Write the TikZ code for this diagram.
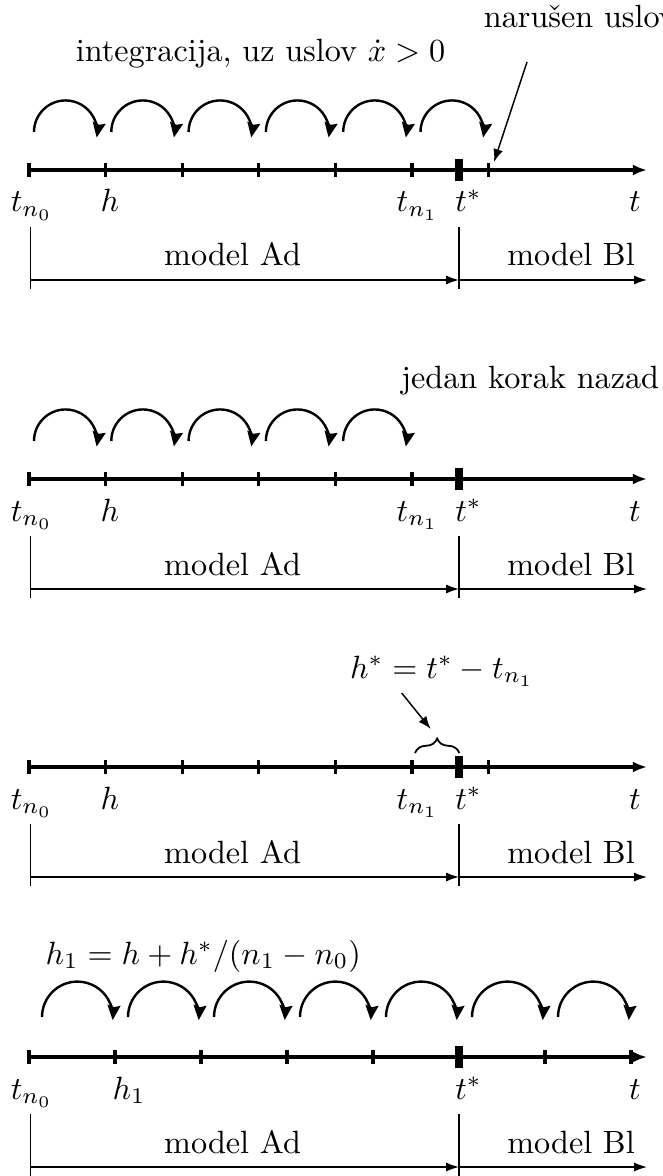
\documentclass[tikz,border=0pt]{standalone}
\usetikzlibrary{arrows.meta,decorations.pathreplacing}
\tikzset{
  axisline/.style={line width=0.95pt,-{Latex[length=4.4pt,width=3.4pt]}},
  tickmark/.style={line width=0.95pt},
  tstar/.style={line width=2.6pt},
  hop/.style={line width=0.75pt,-{Stealth[length=4.6pt,width=4pt,inset=0.6pt]}},
  guide/.style={line width=0.4pt},
  span/.style={line width=0.45pt,-{Latex[length=4pt,width=2.8pt]}},
  pointer/.style={line width=0.45pt,-{Latex[length=4pt,width=3pt]}},
  lbl/.style={anchor=base,inner sep=0pt},
  note/.style={anchor=base west,inner sep=0pt}
}
\begin{document}
\begin{tikzpicture}[x=0.3106pt,y=-0.3106pt]
  \useasboundingbox (0,0) rectangle (663,1176);
  % the four time axes, with what they have in common
  \foreach \a/\n in {170/1,479/2,767/3,1057/4}{
    \draw[axisline] (29,\a) -- (647,\a);
    \draw[tstar] (459,\a-11) -- (459,\a+11);
    \node[lbl] (tn0-\n) at (31.7,\a+42) {$t_{n_0}$};
    \node[lbl] (ts-\n) at (468.5,\a+42) {$t^*$};
    \node[lbl] (t-\n) at (635,\a+42) {$t$};
    \draw[guide] (30.7,\a+57) -- (30.7,\a+119);
    \draw[guide] (459,\a+57) -- (459,\a+119);
    \node[lbl] (ad-\n) at (232.6,\a+96) {model Ad};
    \node[lbl] (bl-\n) at (571,\a+96) {model Bl};
    \coordinate (s-\n) at (30.7,\a+110);
    \coordinate (m-\n) at (459,\a+110);
    \coordinate (e-\n) at (647,\a+110);
    \draw[span] (s-\n) -- (m-\n);
    \draw[span] (m-\n) -- (e-\n);
  }
  % steps of length h
  \foreach \a/\n in {170/1,479/2,767/3}{
    \foreach \k in {0,...,5}
      \draw[tickmark] (29+76.6*\k,\a-7) -- (29+76.6*\k,\a+7);
    \node[lbl] (h-\n) at (110,\a+42) {$h$};
    \node[lbl] (tn1-\n) at (417.5,\a+42) {$t_{n_1}$};
  }
  \draw[tickmark] (488.6,163) -- (488.6,177);
  \draw[tickmark] (488.6,760) -- (488.6,774);

  % panel 1
  \foreach \k in {0,...,5}
    \draw[hop] (34+77.3*\k,132) arc[start angle=180,end angle=-10,radius=9.8pt];
  \node[note] (integr) at (75.3,62) {integracija, uz uslov $\dot{x}>0$};
  \node[note] (narusen) at (483.3,28) {narušen uslov};
  \coordinate (ptail) at (527,62);
  \coordinate (ptip) at (494,162);
  \draw[pointer] (ptail) -- (ptip);

  % panel 2
  \foreach \k in {0,...,4}
    \draw[hop] (34+77.3*\k,441) arc[start angle=180,end angle=-10,radius=9.8pt];
  \node[note] (nazad) at (400.7,388) {jedan korak nazad};

  % panel 3
  \node[lbl] (hstar) at (442,678) {$h^*=t^*-t_{n_1}$};
  \draw[decorate,decoration={brace,amplitude=4.5pt},line width=0.55pt]
    (415,753) -- (459.3,753);
  \coordinate (btail) at (401.7,693);
  \coordinate (btip) at (430.7,729);
  \draw[pointer] (btail) -- (btip);

  % panel 4, corrected step h_1
  \foreach \k in {0,1,2,3,4,6,7}
    \draw[tickmark] (29+86*\k,1050) -- (29+86*\k,1064);
  \foreach \k in {0,...,6}
    \draw[hop] (42+86*\k,1017) arc[start angle=180,end angle=-5,radius=11pt];
  \node[lbl] (h1) at (129,1099) {$h_1$};
  \node[note] (h1eq) at (45,964) {$h_1=h+h^*/(n_1-n_0)$};
\end{tikzpicture}
\end{document}
